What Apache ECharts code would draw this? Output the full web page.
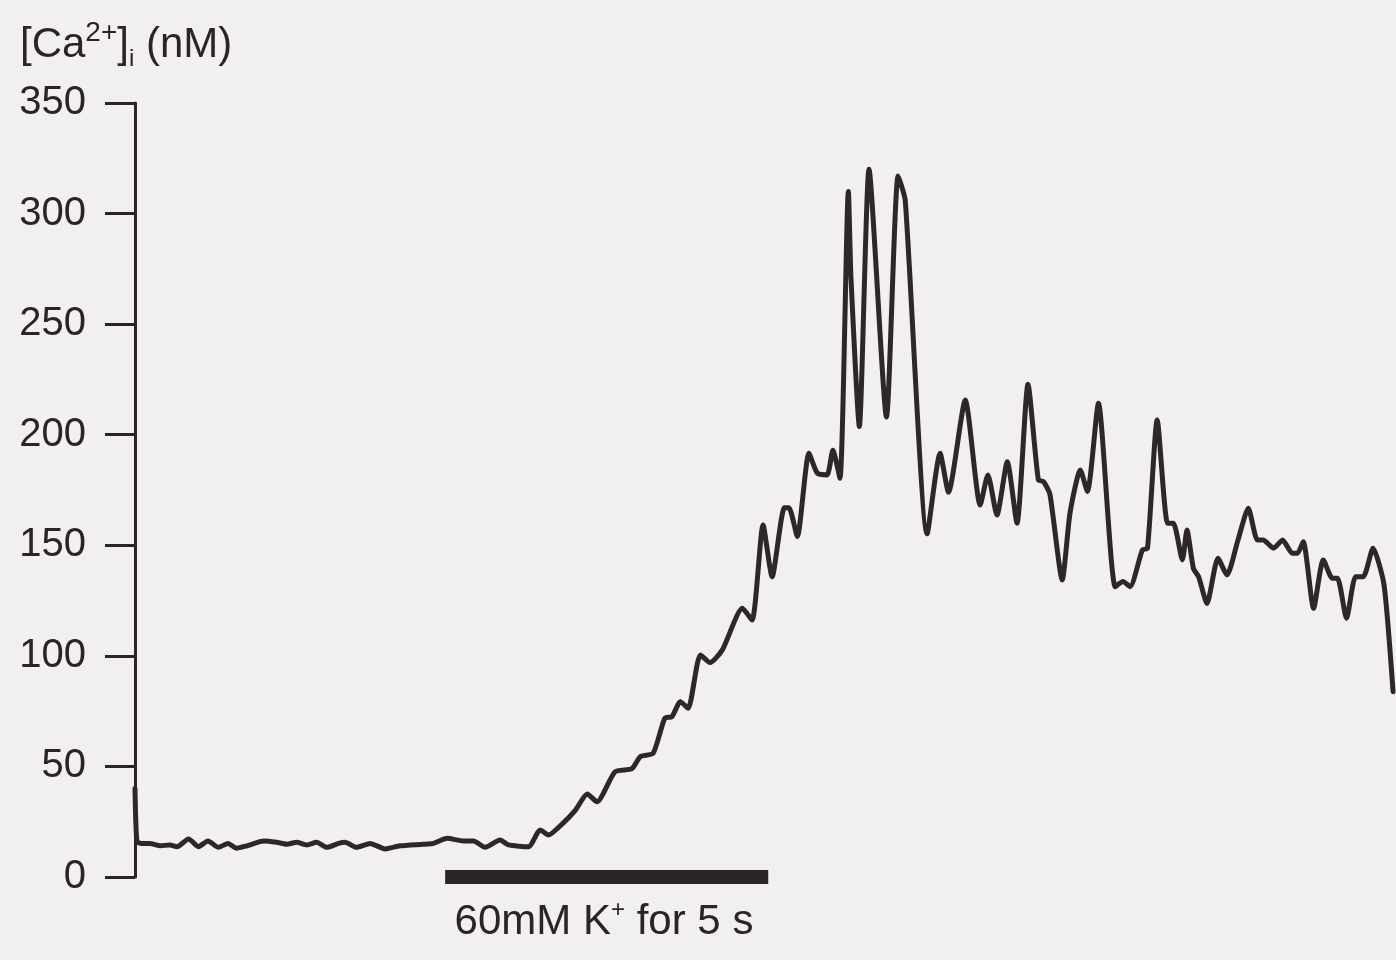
<!DOCTYPE html>
<html>
<head>
<meta charset="utf-8">
<script src="https://cdn.jsdelivr.net/npm/echarts@6/dist/echarts.min.js"></script>
<style>
  html, body { margin: 0; padding: 0; background: #f2eff1; }
  #chart { width: 1396px; height: 960px; }
</style>
</head>
<body>
<div id="chart"></div>
<script>
// Time (s) of each sample of the trace
const timeSec = [
  0.00, 0.03, 0.10, 0.23, 0.39, 0.54, 0.65, 0.83, 0.98, 1.13, 1.29, 1.44, 1.57, 1.73, 1.99,
  2.19, 2.35, 2.50, 2.66, 2.81, 2.97, 3.15, 3.25, 3.43, 3.64, 3.87, 4.10, 4.46, 4.62, 4.83,
  5.08, 5.24, 5.42, 5.65, 5.78, 6.09, 6.27, 6.40, 6.63, 6.81, 7.00, 7.15, 7.43, 7.69, 7.82,
  8.02, 8.20, 8.31, 8.44, 8.56, 8.75, 8.90, 9.09, 9.40, 9.55, 9.72, 9.86, 10.05, 10.12, 10.25,
  10.43, 10.56, 10.71, 10.80, 10.91, 11.04, 11.08, 11.21, 11.36, 11.63, 11.81, 11.92, 12.26, 12.46, 12.59,
  12.85, 13.08, 13.20, 13.34, 13.50, 13.65, 13.82, 13.98, 14.06, 14.16, 14.35, 14.47, 14.63, 14.74, 14.91,
  15.17, 15.29, 15.40, 15.59, 15.67, 15.82, 15.98, 16.07, 16.21, 16.28, 16.38, 16.46, 16.59, 16.76, 16.90,
  17.07, 17.23, 17.37, 17.46, 17.62, 17.76, 17.91, 17.99, 18.08, 18.24, 18.39, 18.53, 18.61, 18.75, 18.89,
  19.01, 19.16, 19.33, 19.47
];
// [Ca2+]i (nM) at each sample
const caNM = [
  40, 16, 15.2, 15.2, 14.1, 14.5, 13.7, 17.2, 13.7, 16.3, 13.4, 15.2, 13.0, 14.1, 16.3,
  15.7, 14.8, 15.7, 14.5, 15.7, 13.4, 15.2, 15.7, 13.4, 15.2, 12.7, 14.1, 14.8, 15.2, 17.5,
  16.3, 16.3, 13.4, 16.7, 14.5, 13.7, 21.3, 19, 24.5, 30, 37.5, 34, 47.6, 49, 54.4,
  56, 71.8, 72.5, 79.3, 76.3, 100.4, 97, 102.7, 121.5, 116.2, 159.2, 135.8, 167, 167, 154,
  191.6, 182.6, 181.8, 193, 180.3, 310, 271.5, 203.7, 320, 208, 317, 306, 155.2, 191.6, 174,
  215.7, 168.2, 181.8, 163.7, 187.8, 160, 222.8, 179.6, 178.8, 173, 134.3, 164.5, 184, 174.3, 214.2,
  131.3, 133.6, 131.3, 147.9, 148.7, 206.7, 160, 160, 143.4, 156.9, 139.6, 135.8, 123.7, 144.1, 136.6,
  152.4, 166.8, 152.4, 152.4, 148.7, 152.4, 146.4, 146.4, 151.6, 121.5, 143.4, 135.1, 135.1, 117, 135.8,
  135.8, 148.7, 132.1, 83.8
];
// Stimulus: 60 mM K+ applied for 5 s
const stimStart = 4.8;
const stimDuration = 5;
// Y-axis settings
const yMin = 0, yMax = 350, yStep = 50;
const xMax = 19.5;

const ink = '#2b2427';
const font = '"Liberation Sans", Arial, Helvetica, sans-serif';

const trace = timeSec.map((t, i) => [t, caNM[i]]);
const stim = [[stimStart, 0], [stimStart + stimDuration, 0]];

const chart = echarts.init(document.getElementById('chart'), null, { renderer: 'canvas' });
chart.setOption({
  backgroundColor: '#f2eff1',
  animation: false,
  grid: { left: 135, top: 103, width: 1260, height: 774, containLabel: false },
  xAxis: {
    type: 'value', min: 0, max: xMax, show: false
  },
  yAxis: {
    type: 'value', min: yMin, max: yMax, interval: yStep,
    axisLine: { show: true, lineStyle: { color: ink, width: 3 } },
    axisTick: { show: true, length: 30, lineStyle: { color: ink, width: 3 } },
    axisLabel: { fontSize: 40, color: ink, margin: 49, fontFamily: font },
    splitLine: { show: false }
  },
  series: [
    {
      type: 'line', data: trace, showSymbol: false, clip: false, smooth: 0.2,
      lineStyle: { color: '#2e2629', width: 5, join: 'round', cap: 'round' },
      z: 3
    },
    {
      type: 'line', data: stim, showSymbol: false, clip: false,
      lineStyle: { color: ink, width: 14, cap: 'butt' },
      z: 4
    }
  ],
  graphic: [
    {
      type: 'text', x: 20, y: 19,
      style: {
        text: '[Ca{sup|2+}]{sub|i} (nM)',
        fontSize: 42, fontFamily: font, fill: ink, lineHeight: 52, verticalAlign: 'top',
        rich: {
          sup: { fontSize: 28, fontFamily: font, fill: ink, verticalAlign: 'top', lineHeight: 14 },
          sub: { fontSize: 24, fontFamily: font, fill: ink, verticalAlign: 'bottom', lineHeight: 33 }
        }
      }
    },
    {
      type: 'text', x: 604, y: 898,
      style: {
        text: '60mM K{sup|+} for 5 s',
        fontSize: 42, fontFamily: font, fill: ink, lineHeight: 48, align: 'center', verticalAlign: 'top',
        rich: {
          sup: { fontSize: 24, fontFamily: font, fill: ink, verticalAlign: 'top', lineHeight: 23 }
        }
      }
    }
  ]
});
</script>
</body>
</html>
